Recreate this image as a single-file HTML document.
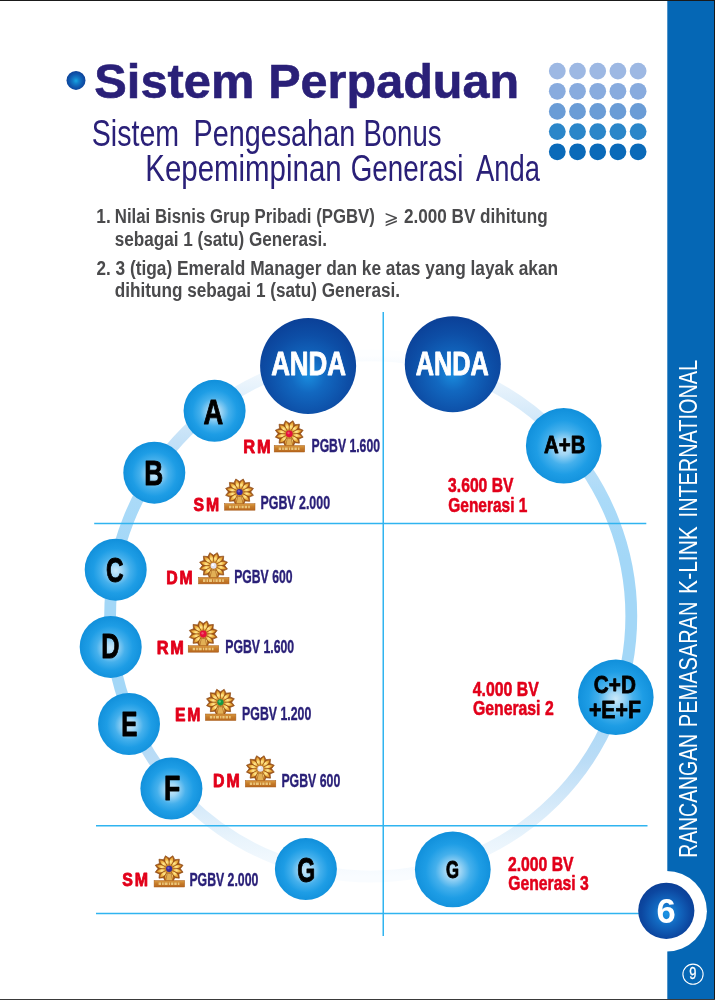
<!DOCTYPE html>
<html lang="id"><head><meta charset="utf-8"><title>Sistem Perpaduan</title>
<style>
html,body{margin:0;padding:0;background:#fff;}
body{width:715px;height:1000px;overflow:hidden;}
svg{display:block;}
svg text{font-family:"Liberation Sans",sans-serif;}
</style></head><body>
<svg width="715" height="1000" viewBox="0 0 715 1000">
<defs>
<radialGradient id="gBul" cx="0.5" cy="0.52" r="0.52">
<stop offset="0" stop-color="#16a8e4"/><stop offset="0.3" stop-color="#127dc9"/><stop offset="0.65" stop-color="#0f59af"/><stop offset="1" stop-color="#0c4098"/></radialGradient>
<radialGradient id="gAnda" cx="0.5" cy="0.6" r="0.6">
<stop offset="0" stop-color="#1a8cde"/><stop offset="0.3" stop-color="#1268c0"/><stop offset="0.7" stop-color="#0d4ea6"/><stop offset="1" stop-color="#0b4097"/></radialGradient>
<radialGradient id="gSix" cx="0.5" cy="0.55" r="0.55">
<stop offset="0" stop-color="#1c96e6"/><stop offset="0.4" stop-color="#1268c0"/><stop offset="0.8" stop-color="#0c47a0"/><stop offset="1" stop-color="#0b3f96"/></radialGradient>
<radialGradient id="gBall" cx="0.5" cy="0.52" r="0.5">
<stop offset="0" stop-color="#cbe9fa"/><stop offset="0.2" stop-color="#a0d6f5"/><stop offset="0.46" stop-color="#45b0ec"/><stop offset="0.72" stop-color="#1e9de5"/><stop offset="1" stop-color="#1291dc"/></radialGradient>
<linearGradient id="gRing" gradientUnits="userSpaceOnUse" x1="0" y1="350" x2="0" y2="882">
<stop offset="0.01" stop-color="#fdfeff"/><stop offset="0.066" stop-color="#e8f3fc"/><stop offset="0.17" stop-color="#c4e1f7"/><stop offset="0.28" stop-color="#aadaf8"/><stop offset="0.39" stop-color="#a3d7f7"/><stop offset="0.66" stop-color="#a3d7f7"/><stop offset="0.77" stop-color="#badcf6"/><stop offset="0.845" stop-color="#d2e8f9"/><stop offset="0.92" stop-color="#e9f4fc"/><stop offset="0.965" stop-color="#f3f9fe"/><stop offset="0.99" stop-color="#f9fcff"/></linearGradient>
<radialGradient id="gPetal" gradientUnits="userSpaceOnUse" cx="-0.5" cy="-7.5" r="7">
<stop offset="0" stop-color="#ffeb9a"/><stop offset="0.35" stop-color="#f3bd4c"/><stop offset="0.75" stop-color="#d98e2c"/><stop offset="1" stop-color="#b66a1a"/></radialGradient>
<linearGradient id="gPlate" x1="0" y1="0" x2="0" y2="1">
<stop offset="0" stop-color="#d99a40"/><stop offset="0.5" stop-color="#c57a28"/><stop offset="1" stop-color="#b7671e"/></linearGradient>
</defs>
<rect width="715" height="1000" fill="#fff"/>
<rect x="667.3" y="0" width="47.7" height="1000" fill="#0567b5"/>
<circle cx="666.6" cy="911.2" r="40.3" fill="#fff"/>
<circle cx="557.3" cy="71.1" r="8.4" fill="#9db8e3"/>
<circle cx="577.5" cy="71.1" r="8.4" fill="#9db8e3"/>
<circle cx="597.7" cy="71.1" r="8.4" fill="#9db8e3"/>
<circle cx="617.9" cy="71.1" r="8.4" fill="#9db8e3"/>
<circle cx="638.1" cy="71.1" r="8.4" fill="#9db8e3"/>
<circle cx="557.3" cy="91.3" r="8.4" fill="#88abde"/>
<circle cx="577.5" cy="91.3" r="8.4" fill="#88abde"/>
<circle cx="597.7" cy="91.3" r="8.4" fill="#88abde"/>
<circle cx="617.9" cy="91.3" r="8.4" fill="#88abde"/>
<circle cx="638.1" cy="91.3" r="8.4" fill="#88abde"/>
<circle cx="557.3" cy="111.4" r="8.4" fill="#6a9cd6"/>
<circle cx="577.5" cy="111.4" r="8.4" fill="#6a9cd6"/>
<circle cx="597.7" cy="111.4" r="8.4" fill="#6a9cd6"/>
<circle cx="617.9" cy="111.4" r="8.4" fill="#6a9cd6"/>
<circle cx="638.1" cy="111.4" r="8.4" fill="#6a9cd6"/>
<circle cx="557.3" cy="131.6" r="8.4" fill="#2b86c9"/>
<circle cx="577.5" cy="131.6" r="8.4" fill="#2b86c9"/>
<circle cx="597.7" cy="131.6" r="8.4" fill="#2b86c9"/>
<circle cx="617.9" cy="131.6" r="8.4" fill="#2b86c9"/>
<circle cx="638.1" cy="131.6" r="8.4" fill="#2b86c9"/>
<circle cx="557.3" cy="151.8" r="8.4" fill="#0a6ab9"/>
<circle cx="577.5" cy="151.8" r="8.4" fill="#0a6ab9"/>
<circle cx="597.7" cy="151.8" r="8.4" fill="#0a6ab9"/>
<circle cx="617.9" cy="151.8" r="8.4" fill="#0a6ab9"/>
<circle cx="638.1" cy="151.8" r="8.4" fill="#0a6ab9"/>
<circle cx="76.0" cy="80.4" r="9.5" fill="url(#gBul)"/>
<text transform="translate(94.34 97.90) scale(0.9957 1)" font-size="49.00" font-weight="bold" fill="#2a2078" stroke="#2a2078" stroke-width="0.6">Sistem</text>
<text transform="translate(268.24 97.90) scale(0.9908 1)" font-size="49.00" font-weight="bold" fill="#2a2078" stroke="#2a2078" stroke-width="0.6">Perpaduan</text>
<text transform="translate(91.81 145.90) scale(0.7833 1)" font-size="36.50" font-weight="normal" fill="#2a2078">Sistem</text>
<text transform="translate(193.50 145.90) scale(0.7889 1)" font-size="36.50" font-weight="normal" fill="#2a2078">Pengesahan</text>
<text transform="translate(363.40 145.90) scale(0.7544 1)" font-size="36.50" font-weight="normal" fill="#2a2078">Bonus</text>
<text transform="translate(145.24 180.70) scale(0.8070 1)" font-size="36.50" font-weight="normal" fill="#2a2078">Kepemimpinan</text>
<text transform="translate(350.71 180.70) scale(0.7614 1)" font-size="36.50" font-weight="normal" fill="#2a2078">Generasi</text>
<text transform="translate(475.96 180.70) scale(0.7502 1)" font-size="36.50" font-weight="normal" fill="#2a2078">Anda</text>
<text transform="translate(96.28 223.30) scale(0.8432 1)" font-size="20.50" font-weight="bold" fill="#4a4a4c">1.</text>
<text transform="translate(114.81 223.30) scale(0.8190 1)" font-size="20.50" font-weight="bold" fill="#4a4a4c">Nilai Bisnis Grup Pribadi (PGBV)</text>
<text transform="translate(383.72 223.70) scale(0.9361 1)" font-size="19.14" style="font-family:'DejaVu Sans',sans-serif" fill="#4a4a4c">⩾</text>
<text transform="translate(404.00 223.30) scale(0.8356 1)" font-size="20.50" font-weight="bold" fill="#4a4a4c">2.000 BV dihitung</text>
<text transform="translate(114.80 245.90) scale(0.8359 1)" font-size="20.50" font-weight="bold" fill="#4a4a4c">sebagai 1 (satu) Generasi.</text>
<text transform="translate(96.40 275.00) scale(0.8353 1)" font-size="20.50" font-weight="bold" fill="#4a4a4c">2.</text>
<text transform="translate(115.47 275.00) scale(0.8450 1)" font-size="20.50" font-weight="bold" fill="#4a4a4c">3 (tiga) Emerald Manager dan ke atas yang layak akan</text>
<text transform="translate(114.71 297.10) scale(0.8379 1)" font-size="20.50" font-weight="bold" fill="#4a4a4c">dihitung sebagai 1 (satu) Generasi.</text>
<circle cx="370.7" cy="616" r="260.6" fill="none" stroke="url(#gRing)" stroke-width="11.8"/>
<g stroke="#30b4f0" stroke-width="1.5" fill="none">
<line x1="383.25" y1="312" x2="383.25" y2="936"/>
<line x1="94.2" y1="523.5" x2="646.3" y2="523.5"/>
<line x1="96" y1="825.8" x2="647.5" y2="825.8"/>
<line x1="96" y1="913.4" x2="640" y2="913.4"/>
</g>
<circle cx="666.3" cy="910.8" r="28.1" fill="url(#gSix)"/>
<text transform="translate(656.59 922.90) scale(1.0099 1)" font-size="34.30" font-weight="bold" fill="#fff">6</text>
<circle cx="693" cy="974.2" r="10.1" fill="none" stroke="#fff" stroke-width="1.1"/>
<text transform="translate(689.32 979.10) scale(0.8271 1)" font-size="15.60" font-weight="normal" fill="#fff" stroke="#fff" stroke-width="0.3">9</text>
<text transform="translate(697.40 857.85) rotate(-90) scale(0.7302 1)" font-size="26.60" font-weight="normal" fill="#fff">RANCANGAN</text>
<text transform="translate(697.40 727.20) rotate(-90) scale(0.7525 1)" font-size="26.60" font-weight="normal" fill="#fff">PEMASARAN</text>
<text transform="translate(697.40 593.88) rotate(-90) scale(0.7903 1)" font-size="26.60" font-weight="normal" fill="#fff">K-LINK</text>
<text transform="translate(697.40 517.39) rotate(-90) scale(0.7471 1)" font-size="26.60" font-weight="normal" fill="#fff">INTERNATIONAL</text>
<circle cx="308.1" cy="366.0" r="48" fill="url(#gAnda)"/>
<text transform="translate(271.15 375.30) scale(0.7856 1)" font-size="33.00" font-weight="bold" fill="#fff" stroke="#fff" stroke-width="0.9" stroke-linejoin="round">ANDA</text>
<circle cx="452.8" cy="364.2" r="48" fill="url(#gAnda)"/>
<text transform="translate(415.87 375.00) scale(0.7664 1)" font-size="33.00" font-weight="bold" fill="#fff" stroke="#fff" stroke-width="0.9" stroke-linejoin="round">ANDA</text>
<circle cx="214.6" cy="410.8" r="31" fill="url(#gBall)"/>
<text transform="translate(203.62 423.50) scale(0.7940 1)" font-size="34.40" font-weight="bold" fill="#000" stroke="#000" stroke-width="0.9" stroke-linejoin="round">A</text>
<circle cx="154.3" cy="472.7" r="31" fill="url(#gBall)"/>
<text transform="translate(144.30 484.70) scale(0.7625 1)" font-size="34.40" font-weight="bold" fill="#000" stroke="#000" stroke-width="0.9" stroke-linejoin="round">B</text>
<circle cx="115.7" cy="569.7" r="31" fill="url(#gBall)"/>
<text transform="translate(105.92 582.30) scale(0.7101 1)" font-size="34.40" font-weight="bold" fill="#000" stroke="#000" stroke-width="0.9" stroke-linejoin="round">C</text>
<circle cx="110.7" cy="646.9" r="31" fill="url(#gBall)"/>
<text transform="translate(101.16 658.30) scale(0.7327 1)" font-size="34.40" font-weight="bold" fill="#000" stroke="#000" stroke-width="0.9" stroke-linejoin="round">D</text>
<circle cx="129.0" cy="724.0" r="31" fill="url(#gBall)"/>
<text transform="translate(121.32 736.20) scale(0.7049 1)" font-size="34.40" font-weight="bold" fill="#000" stroke="#000" stroke-width="0.9" stroke-linejoin="round">E</text>
<circle cx="171.4" cy="788.5" r="31" fill="url(#gBall)"/>
<text transform="translate(164.07 799.80) scale(0.7752 1)" font-size="34.40" font-weight="bold" fill="#000" stroke="#000" stroke-width="0.9" stroke-linejoin="round">F</text>
<circle cx="305.9" cy="869.1" r="31" fill="url(#gBall)"/>
<text transform="translate(297.28 881.90) scale(0.6718 1)" font-size="34.40" font-weight="bold" fill="#000" stroke="#000" stroke-width="0.9" stroke-linejoin="round">G</text>
<circle cx="563.7" cy="445.8" r="37.8" fill="url(#gBall)"/>
<text transform="translate(544.09 452.70) scale(0.8434 1)" font-size="24.20" font-weight="bold" fill="#000" stroke="#000" stroke-width="0.8" stroke-linejoin="round">A+B</text>
<circle cx="615.8" cy="697.3" r="37.8" fill="url(#gBall)"/>
<text transform="translate(593.87 693.20) scale(0.8492 1)" font-size="24.40" font-weight="bold" fill="#000" stroke="#000" stroke-width="0.8" stroke-linejoin="round">C+D</text>
<text transform="translate(588.95 717.50) scale(0.8716 1)" font-size="24.40" font-weight="bold" fill="#000" stroke="#000" stroke-width="0.8" stroke-linejoin="round">+E+F</text>
<circle cx="452.8" cy="869.4" r="37.9" fill="url(#gBall)"/>
<text transform="translate(445.93 878.00) scale(0.6918 1)" font-size="24.20" font-weight="bold" fill="#000" stroke="#000" stroke-width="0.9" stroke-linejoin="round">G</text>
<text transform="translate(448.11 492.00) scale(0.7722 1)" font-size="20.30" font-weight="bold" fill="#e2001a" stroke="#e2001a" stroke-width="0.55" stroke-linejoin="round">3.600 BV</text>
<text transform="translate(448.28 512.20) scale(0.7618 1)" font-size="20.30" font-weight="bold" fill="#e2001a" stroke="#e2001a" stroke-width="0.55" stroke-linejoin="round">Generasi 1</text>
<text transform="translate(472.76 695.70) scale(0.7811 1)" font-size="20.30" font-weight="bold" fill="#e2001a" stroke="#e2001a" stroke-width="0.55" stroke-linejoin="round">4.000 BV</text>
<text transform="translate(472.97 715.40) scale(0.7778 1)" font-size="20.30" font-weight="bold" fill="#e2001a" stroke="#e2001a" stroke-width="0.55" stroke-linejoin="round">Generasi 2</text>
<text transform="translate(507.95 870.60) scale(0.7765 1)" font-size="20.30" font-weight="bold" fill="#e2001a" stroke="#e2001a" stroke-width="0.55" stroke-linejoin="round">2.000 BV</text>
<text transform="translate(508.27 889.60) scale(0.7751 1)" font-size="20.30" font-weight="bold" fill="#e2001a" stroke="#e2001a" stroke-width="0.55" stroke-linejoin="round">Generasi 3</text>
<text transform="translate(243.13 452.70) scale(0.8931 1)" font-size="18.40" font-weight="bold" fill="#e2001a" letter-spacing="2.2" stroke="#e2001a" stroke-width="0.85" stroke-linejoin="round">RM</text>
<g>
<polygon points="292.98,420.76 294.85,424.68 299.43,424.23 298.95,428.49 303.16,430.23 300.45,433.70 303.16,437.17 298.95,438.91 299.43,443.17 294.85,442.72 292.98,446.64 289.25,444.12 285.52,446.64 283.65,442.72 279.07,443.17 279.55,438.91 275.34,437.17 278.05,433.70 275.34,430.23 279.55,428.49 279.07,424.23 283.65,424.68 285.52,420.76 289.25,423.28" fill="#a55a19" stroke="#8e4a14" stroke-width="0.7" stroke-linejoin="round"/>
<path transform="translate(289.25 433.70) scale(1 0.93) rotate(15)" d="M0,-3.4 C2.1,-5.5 2.6,-9.6 0,-12.9 C-2.6,-9.6 -2.1,-5.5 0,-3.4Z" fill="url(#gPetal)"/>
<path transform="translate(289.25 433.70) scale(1 0.93) rotate(45)" d="M0,-3.4 C2.1,-5.5 2.6,-9.6 0,-12.9 C-2.6,-9.6 -2.1,-5.5 0,-3.4Z" fill="url(#gPetal)"/>
<path transform="translate(289.25 433.70) scale(1 0.93) rotate(75)" d="M0,-3.4 C2.1,-5.5 2.6,-9.6 0,-12.9 C-2.6,-9.6 -2.1,-5.5 0,-3.4Z" fill="url(#gPetal)"/>
<path transform="translate(289.25 433.70) scale(1 0.93) rotate(105)" d="M0,-3.4 C2.1,-5.5 2.6,-9.6 0,-12.9 C-2.6,-9.6 -2.1,-5.5 0,-3.4Z" fill="url(#gPetal)"/>
<path transform="translate(289.25 433.70) scale(1 0.93) rotate(135)" d="M0,-3.4 C2.1,-5.5 2.6,-9.6 0,-12.9 C-2.6,-9.6 -2.1,-5.5 0,-3.4Z" fill="url(#gPetal)"/>
<path transform="translate(289.25 433.70) scale(1 0.93) rotate(165)" d="M0,-3.4 C2.1,-5.5 2.6,-9.6 0,-12.9 C-2.6,-9.6 -2.1,-5.5 0,-3.4Z" fill="url(#gPetal)"/>
<path transform="translate(289.25 433.70) scale(1 0.93) rotate(195)" d="M0,-3.4 C2.1,-5.5 2.6,-9.6 0,-12.9 C-2.6,-9.6 -2.1,-5.5 0,-3.4Z" fill="url(#gPetal)"/>
<path transform="translate(289.25 433.70) scale(1 0.93) rotate(225)" d="M0,-3.4 C2.1,-5.5 2.6,-9.6 0,-12.9 C-2.6,-9.6 -2.1,-5.5 0,-3.4Z" fill="url(#gPetal)"/>
<path transform="translate(289.25 433.70) scale(1 0.93) rotate(255)" d="M0,-3.4 C2.1,-5.5 2.6,-9.6 0,-12.9 C-2.6,-9.6 -2.1,-5.5 0,-3.4Z" fill="url(#gPetal)"/>
<path transform="translate(289.25 433.70) scale(1 0.93) rotate(285)" d="M0,-3.4 C2.1,-5.5 2.6,-9.6 0,-12.9 C-2.6,-9.6 -2.1,-5.5 0,-3.4Z" fill="url(#gPetal)"/>
<path transform="translate(289.25 433.70) scale(1 0.93) rotate(315)" d="M0,-3.4 C2.1,-5.5 2.6,-9.6 0,-12.9 C-2.6,-9.6 -2.1,-5.5 0,-3.4Z" fill="url(#gPetal)"/>
<path transform="translate(289.25 433.70) scale(1 0.93) rotate(345)" d="M0,-3.4 C2.1,-5.5 2.6,-9.6 0,-12.9 C-2.6,-9.6 -2.1,-5.5 0,-3.4Z" fill="url(#gPetal)"/>
<path transform="translate(289.25 433.70) scale(1 0.93) rotate(0)" d="M0,-4 L0,-11" stroke="#8f4c16" stroke-width="0.7" fill="none" opacity="0.75"/>
<path transform="translate(289.25 433.70) scale(1 0.93) rotate(30)" d="M0,-4 L0,-11" stroke="#8f4c16" stroke-width="0.7" fill="none" opacity="0.75"/>
<path transform="translate(289.25 433.70) scale(1 0.93) rotate(60)" d="M0,-4 L0,-11" stroke="#8f4c16" stroke-width="0.7" fill="none" opacity="0.75"/>
<path transform="translate(289.25 433.70) scale(1 0.93) rotate(90)" d="M0,-4 L0,-11" stroke="#8f4c16" stroke-width="0.7" fill="none" opacity="0.75"/>
<path transform="translate(289.25 433.70) scale(1 0.93) rotate(120)" d="M0,-4 L0,-11" stroke="#8f4c16" stroke-width="0.7" fill="none" opacity="0.75"/>
<path transform="translate(289.25 433.70) scale(1 0.93) rotate(150)" d="M0,-4 L0,-11" stroke="#8f4c16" stroke-width="0.7" fill="none" opacity="0.75"/>
<path transform="translate(289.25 433.70) scale(1 0.93) rotate(180)" d="M0,-4 L0,-11" stroke="#8f4c16" stroke-width="0.7" fill="none" opacity="0.75"/>
<path transform="translate(289.25 433.70) scale(1 0.93) rotate(210)" d="M0,-4 L0,-11" stroke="#8f4c16" stroke-width="0.7" fill="none" opacity="0.75"/>
<path transform="translate(289.25 433.70) scale(1 0.93) rotate(240)" d="M0,-4 L0,-11" stroke="#8f4c16" stroke-width="0.7" fill="none" opacity="0.75"/>
<path transform="translate(289.25 433.70) scale(1 0.93) rotate(270)" d="M0,-4 L0,-11" stroke="#8f4c16" stroke-width="0.7" fill="none" opacity="0.75"/>
<path transform="translate(289.25 433.70) scale(1 0.93) rotate(300)" d="M0,-4 L0,-11" stroke="#8f4c16" stroke-width="0.7" fill="none" opacity="0.75"/>
<path transform="translate(289.25 433.70) scale(1 0.93) rotate(330)" d="M0,-4 L0,-11" stroke="#8f4c16" stroke-width="0.7" fill="none" opacity="0.75"/>
<path d="M287.25,438.20 L285.65,446.00 L292.85,446.00 L291.25,438.20Z" fill="#e2b055" stroke="#98531a" stroke-width="0.6"/>
<circle cx="289.25" cy="433.80" r="4.6" fill="#c98a34" opacity="0.6"/>
<circle cx="289.25" cy="433.80" r="3.4" fill="#e60f3c"/>
<circle cx="288.55" cy="433.00" r="1.2" fill="#f0506e"/>
<rect x="274.20" y="445.50" width="30.5" height="6.5" fill="url(#gPlate)" stroke="#a85c1b" stroke-width="0.5"/>
<path d="M278.70,448.75 H300.20" stroke="#f1d48a" stroke-width="2.6" stroke-dasharray="2.4 1.1 1.6 0.9 3 1.2 1.3 1 2.2 1" fill="none" opacity="0.85"/>
</g>
<text transform="translate(311.51 452.20) scale(0.6852 1)" font-size="17.80" font-weight="bold" fill="#2a2078" stroke="#2a2078" stroke-width="0.35">PGBV 1.600</text>
<text transform="translate(193.53 510.70) scale(0.8584 1)" font-size="18.40" font-weight="bold" fill="#e2001a" letter-spacing="2.2" stroke="#e2001a" stroke-width="0.85" stroke-linejoin="round">SM</text>
<g>
<polygon points="243.28,478.96 245.15,482.88 249.73,482.43 249.25,486.69 253.46,488.43 250.75,491.90 253.46,495.37 249.25,497.11 249.73,501.37 245.15,500.92 243.28,504.84 239.55,502.32 235.82,504.84 233.95,500.92 229.37,501.37 229.85,497.11 225.64,495.37 228.35,491.90 225.64,488.43 229.85,486.69 229.37,482.43 233.95,482.88 235.82,478.96 239.55,481.48" fill="#a55a19" stroke="#8e4a14" stroke-width="0.7" stroke-linejoin="round"/>
<path transform="translate(239.55 491.90) scale(1 0.93) rotate(15)" d="M0,-3.4 C2.1,-5.5 2.6,-9.6 0,-12.9 C-2.6,-9.6 -2.1,-5.5 0,-3.4Z" fill="url(#gPetal)"/>
<path transform="translate(239.55 491.90) scale(1 0.93) rotate(45)" d="M0,-3.4 C2.1,-5.5 2.6,-9.6 0,-12.9 C-2.6,-9.6 -2.1,-5.5 0,-3.4Z" fill="url(#gPetal)"/>
<path transform="translate(239.55 491.90) scale(1 0.93) rotate(75)" d="M0,-3.4 C2.1,-5.5 2.6,-9.6 0,-12.9 C-2.6,-9.6 -2.1,-5.5 0,-3.4Z" fill="url(#gPetal)"/>
<path transform="translate(239.55 491.90) scale(1 0.93) rotate(105)" d="M0,-3.4 C2.1,-5.5 2.6,-9.6 0,-12.9 C-2.6,-9.6 -2.1,-5.5 0,-3.4Z" fill="url(#gPetal)"/>
<path transform="translate(239.55 491.90) scale(1 0.93) rotate(135)" d="M0,-3.4 C2.1,-5.5 2.6,-9.6 0,-12.9 C-2.6,-9.6 -2.1,-5.5 0,-3.4Z" fill="url(#gPetal)"/>
<path transform="translate(239.55 491.90) scale(1 0.93) rotate(165)" d="M0,-3.4 C2.1,-5.5 2.6,-9.6 0,-12.9 C-2.6,-9.6 -2.1,-5.5 0,-3.4Z" fill="url(#gPetal)"/>
<path transform="translate(239.55 491.90) scale(1 0.93) rotate(195)" d="M0,-3.4 C2.1,-5.5 2.6,-9.6 0,-12.9 C-2.6,-9.6 -2.1,-5.5 0,-3.4Z" fill="url(#gPetal)"/>
<path transform="translate(239.55 491.90) scale(1 0.93) rotate(225)" d="M0,-3.4 C2.1,-5.5 2.6,-9.6 0,-12.9 C-2.6,-9.6 -2.1,-5.5 0,-3.4Z" fill="url(#gPetal)"/>
<path transform="translate(239.55 491.90) scale(1 0.93) rotate(255)" d="M0,-3.4 C2.1,-5.5 2.6,-9.6 0,-12.9 C-2.6,-9.6 -2.1,-5.5 0,-3.4Z" fill="url(#gPetal)"/>
<path transform="translate(239.55 491.90) scale(1 0.93) rotate(285)" d="M0,-3.4 C2.1,-5.5 2.6,-9.6 0,-12.9 C-2.6,-9.6 -2.1,-5.5 0,-3.4Z" fill="url(#gPetal)"/>
<path transform="translate(239.55 491.90) scale(1 0.93) rotate(315)" d="M0,-3.4 C2.1,-5.5 2.6,-9.6 0,-12.9 C-2.6,-9.6 -2.1,-5.5 0,-3.4Z" fill="url(#gPetal)"/>
<path transform="translate(239.55 491.90) scale(1 0.93) rotate(345)" d="M0,-3.4 C2.1,-5.5 2.6,-9.6 0,-12.9 C-2.6,-9.6 -2.1,-5.5 0,-3.4Z" fill="url(#gPetal)"/>
<path transform="translate(239.55 491.90) scale(1 0.93) rotate(0)" d="M0,-4 L0,-11" stroke="#8f4c16" stroke-width="0.7" fill="none" opacity="0.75"/>
<path transform="translate(239.55 491.90) scale(1 0.93) rotate(30)" d="M0,-4 L0,-11" stroke="#8f4c16" stroke-width="0.7" fill="none" opacity="0.75"/>
<path transform="translate(239.55 491.90) scale(1 0.93) rotate(60)" d="M0,-4 L0,-11" stroke="#8f4c16" stroke-width="0.7" fill="none" opacity="0.75"/>
<path transform="translate(239.55 491.90) scale(1 0.93) rotate(90)" d="M0,-4 L0,-11" stroke="#8f4c16" stroke-width="0.7" fill="none" opacity="0.75"/>
<path transform="translate(239.55 491.90) scale(1 0.93) rotate(120)" d="M0,-4 L0,-11" stroke="#8f4c16" stroke-width="0.7" fill="none" opacity="0.75"/>
<path transform="translate(239.55 491.90) scale(1 0.93) rotate(150)" d="M0,-4 L0,-11" stroke="#8f4c16" stroke-width="0.7" fill="none" opacity="0.75"/>
<path transform="translate(239.55 491.90) scale(1 0.93) rotate(180)" d="M0,-4 L0,-11" stroke="#8f4c16" stroke-width="0.7" fill="none" opacity="0.75"/>
<path transform="translate(239.55 491.90) scale(1 0.93) rotate(210)" d="M0,-4 L0,-11" stroke="#8f4c16" stroke-width="0.7" fill="none" opacity="0.75"/>
<path transform="translate(239.55 491.90) scale(1 0.93) rotate(240)" d="M0,-4 L0,-11" stroke="#8f4c16" stroke-width="0.7" fill="none" opacity="0.75"/>
<path transform="translate(239.55 491.90) scale(1 0.93) rotate(270)" d="M0,-4 L0,-11" stroke="#8f4c16" stroke-width="0.7" fill="none" opacity="0.75"/>
<path transform="translate(239.55 491.90) scale(1 0.93) rotate(300)" d="M0,-4 L0,-11" stroke="#8f4c16" stroke-width="0.7" fill="none" opacity="0.75"/>
<path transform="translate(239.55 491.90) scale(1 0.93) rotate(330)" d="M0,-4 L0,-11" stroke="#8f4c16" stroke-width="0.7" fill="none" opacity="0.75"/>
<path d="M237.55,496.40 L235.95,504.20 L243.15,504.20 L241.55,496.40Z" fill="#e2b055" stroke="#98531a" stroke-width="0.6"/>
<circle cx="239.55" cy="492.00" r="4.6" fill="#c98a34" opacity="0.6"/>
<circle cx="239.55" cy="492.00" r="3.1" fill="#3a2c9c"/>
<circle cx="238.85" cy="491.20" r="1.2" fill="#6a5cc8"/>
<rect x="224.50" y="503.70" width="30.5" height="6.5" fill="url(#gPlate)" stroke="#a85c1b" stroke-width="0.5"/>
<path d="M229.00,506.95 H250.50" stroke="#f1d48a" stroke-width="2.6" stroke-dasharray="2.4 1.1 1.6 0.9 3 1.2 1.3 1 2.2 1" fill="none" opacity="0.85"/>
</g>
<text transform="translate(260.49 509.20) scale(0.6964 1)" font-size="17.80" font-weight="bold" fill="#2a2078" stroke="#2a2078" stroke-width="0.35">PGBV 2.000</text>
<text transform="translate(166.17 584.40) scale(0.8613 1)" font-size="18.40" font-weight="bold" fill="#e2001a" letter-spacing="2.2" stroke="#e2001a" stroke-width="0.85" stroke-linejoin="round">DM</text>
<g>
<polygon points="217.28,552.66 219.15,556.58 223.73,556.13 223.25,560.39 227.46,562.13 224.75,565.60 227.46,569.07 223.25,570.81 223.73,575.07 219.15,574.62 217.28,578.54 213.55,576.02 209.82,578.54 207.95,574.62 203.37,575.07 203.85,570.81 199.64,569.07 202.35,565.60 199.64,562.13 203.85,560.39 203.37,556.13 207.95,556.58 209.82,552.66 213.55,555.18" fill="#a55a19" stroke="#8e4a14" stroke-width="0.7" stroke-linejoin="round"/>
<path transform="translate(213.55 565.60) scale(1 0.93) rotate(15)" d="M0,-3.4 C2.1,-5.5 2.6,-9.6 0,-12.9 C-2.6,-9.6 -2.1,-5.5 0,-3.4Z" fill="url(#gPetal)"/>
<path transform="translate(213.55 565.60) scale(1 0.93) rotate(45)" d="M0,-3.4 C2.1,-5.5 2.6,-9.6 0,-12.9 C-2.6,-9.6 -2.1,-5.5 0,-3.4Z" fill="url(#gPetal)"/>
<path transform="translate(213.55 565.60) scale(1 0.93) rotate(75)" d="M0,-3.4 C2.1,-5.5 2.6,-9.6 0,-12.9 C-2.6,-9.6 -2.1,-5.5 0,-3.4Z" fill="url(#gPetal)"/>
<path transform="translate(213.55 565.60) scale(1 0.93) rotate(105)" d="M0,-3.4 C2.1,-5.5 2.6,-9.6 0,-12.9 C-2.6,-9.6 -2.1,-5.5 0,-3.4Z" fill="url(#gPetal)"/>
<path transform="translate(213.55 565.60) scale(1 0.93) rotate(135)" d="M0,-3.4 C2.1,-5.5 2.6,-9.6 0,-12.9 C-2.6,-9.6 -2.1,-5.5 0,-3.4Z" fill="url(#gPetal)"/>
<path transform="translate(213.55 565.60) scale(1 0.93) rotate(165)" d="M0,-3.4 C2.1,-5.5 2.6,-9.6 0,-12.9 C-2.6,-9.6 -2.1,-5.5 0,-3.4Z" fill="url(#gPetal)"/>
<path transform="translate(213.55 565.60) scale(1 0.93) rotate(195)" d="M0,-3.4 C2.1,-5.5 2.6,-9.6 0,-12.9 C-2.6,-9.6 -2.1,-5.5 0,-3.4Z" fill="url(#gPetal)"/>
<path transform="translate(213.55 565.60) scale(1 0.93) rotate(225)" d="M0,-3.4 C2.1,-5.5 2.6,-9.6 0,-12.9 C-2.6,-9.6 -2.1,-5.5 0,-3.4Z" fill="url(#gPetal)"/>
<path transform="translate(213.55 565.60) scale(1 0.93) rotate(255)" d="M0,-3.4 C2.1,-5.5 2.6,-9.6 0,-12.9 C-2.6,-9.6 -2.1,-5.5 0,-3.4Z" fill="url(#gPetal)"/>
<path transform="translate(213.55 565.60) scale(1 0.93) rotate(285)" d="M0,-3.4 C2.1,-5.5 2.6,-9.6 0,-12.9 C-2.6,-9.6 -2.1,-5.5 0,-3.4Z" fill="url(#gPetal)"/>
<path transform="translate(213.55 565.60) scale(1 0.93) rotate(315)" d="M0,-3.4 C2.1,-5.5 2.6,-9.6 0,-12.9 C-2.6,-9.6 -2.1,-5.5 0,-3.4Z" fill="url(#gPetal)"/>
<path transform="translate(213.55 565.60) scale(1 0.93) rotate(345)" d="M0,-3.4 C2.1,-5.5 2.6,-9.6 0,-12.9 C-2.6,-9.6 -2.1,-5.5 0,-3.4Z" fill="url(#gPetal)"/>
<path transform="translate(213.55 565.60) scale(1 0.93) rotate(0)" d="M0,-4 L0,-11" stroke="#8f4c16" stroke-width="0.7" fill="none" opacity="0.75"/>
<path transform="translate(213.55 565.60) scale(1 0.93) rotate(30)" d="M0,-4 L0,-11" stroke="#8f4c16" stroke-width="0.7" fill="none" opacity="0.75"/>
<path transform="translate(213.55 565.60) scale(1 0.93) rotate(60)" d="M0,-4 L0,-11" stroke="#8f4c16" stroke-width="0.7" fill="none" opacity="0.75"/>
<path transform="translate(213.55 565.60) scale(1 0.93) rotate(90)" d="M0,-4 L0,-11" stroke="#8f4c16" stroke-width="0.7" fill="none" opacity="0.75"/>
<path transform="translate(213.55 565.60) scale(1 0.93) rotate(120)" d="M0,-4 L0,-11" stroke="#8f4c16" stroke-width="0.7" fill="none" opacity="0.75"/>
<path transform="translate(213.55 565.60) scale(1 0.93) rotate(150)" d="M0,-4 L0,-11" stroke="#8f4c16" stroke-width="0.7" fill="none" opacity="0.75"/>
<path transform="translate(213.55 565.60) scale(1 0.93) rotate(180)" d="M0,-4 L0,-11" stroke="#8f4c16" stroke-width="0.7" fill="none" opacity="0.75"/>
<path transform="translate(213.55 565.60) scale(1 0.93) rotate(210)" d="M0,-4 L0,-11" stroke="#8f4c16" stroke-width="0.7" fill="none" opacity="0.75"/>
<path transform="translate(213.55 565.60) scale(1 0.93) rotate(240)" d="M0,-4 L0,-11" stroke="#8f4c16" stroke-width="0.7" fill="none" opacity="0.75"/>
<path transform="translate(213.55 565.60) scale(1 0.93) rotate(270)" d="M0,-4 L0,-11" stroke="#8f4c16" stroke-width="0.7" fill="none" opacity="0.75"/>
<path transform="translate(213.55 565.60) scale(1 0.93) rotate(300)" d="M0,-4 L0,-11" stroke="#8f4c16" stroke-width="0.7" fill="none" opacity="0.75"/>
<path transform="translate(213.55 565.60) scale(1 0.93) rotate(330)" d="M0,-4 L0,-11" stroke="#8f4c16" stroke-width="0.7" fill="none" opacity="0.75"/>
<path d="M211.55,570.10 L209.95,577.90 L217.15,577.90 L215.55,570.10Z" fill="#e2b055" stroke="#98531a" stroke-width="0.6"/>
<circle cx="213.55" cy="565.70" r="4.6" fill="#c98a34" opacity="0.6"/>
<circle cx="213.55" cy="565.70" r="3.0" fill="#e6e3ec"/>
<circle cx="212.85" cy="564.90" r="1.2" fill="#ffffff"/>
<rect x="198.50" y="577.40" width="30.5" height="6.5" fill="url(#gPlate)" stroke="#a85c1b" stroke-width="0.5"/>
<path d="M203.00,580.65 H224.50" stroke="#f1d48a" stroke-width="2.6" stroke-dasharray="2.4 1.1 1.6 0.9 3 1.2 1.3 1 2.2 1" fill="none" opacity="0.85"/>
</g>
<text transform="translate(234.21 583.40) scale(0.6850 1)" font-size="17.80" font-weight="bold" fill="#2a2078" stroke="#2a2078" stroke-width="0.35">PGBV 600</text>
<text transform="translate(156.64 653.80) scale(0.8860 1)" font-size="18.40" font-weight="bold" fill="#e2001a" letter-spacing="2.2" stroke="#e2001a" stroke-width="0.85" stroke-linejoin="round">RM</text>
<g>
<polygon points="206.98,620.96 208.85,624.88 213.43,624.43 212.95,628.69 217.16,630.43 214.45,633.90 217.16,637.37 212.95,639.11 213.43,643.37 208.85,642.92 206.98,646.84 203.25,644.32 199.52,646.84 197.65,642.92 193.07,643.37 193.55,639.11 189.34,637.37 192.05,633.90 189.34,630.43 193.55,628.69 193.07,624.43 197.65,624.88 199.52,620.96 203.25,623.48" fill="#a55a19" stroke="#8e4a14" stroke-width="0.7" stroke-linejoin="round"/>
<path transform="translate(203.25 633.90) scale(1 0.93) rotate(15)" d="M0,-3.4 C2.1,-5.5 2.6,-9.6 0,-12.9 C-2.6,-9.6 -2.1,-5.5 0,-3.4Z" fill="url(#gPetal)"/>
<path transform="translate(203.25 633.90) scale(1 0.93) rotate(45)" d="M0,-3.4 C2.1,-5.5 2.6,-9.6 0,-12.9 C-2.6,-9.6 -2.1,-5.5 0,-3.4Z" fill="url(#gPetal)"/>
<path transform="translate(203.25 633.90) scale(1 0.93) rotate(75)" d="M0,-3.4 C2.1,-5.5 2.6,-9.6 0,-12.9 C-2.6,-9.6 -2.1,-5.5 0,-3.4Z" fill="url(#gPetal)"/>
<path transform="translate(203.25 633.90) scale(1 0.93) rotate(105)" d="M0,-3.4 C2.1,-5.5 2.6,-9.6 0,-12.9 C-2.6,-9.6 -2.1,-5.5 0,-3.4Z" fill="url(#gPetal)"/>
<path transform="translate(203.25 633.90) scale(1 0.93) rotate(135)" d="M0,-3.4 C2.1,-5.5 2.6,-9.6 0,-12.9 C-2.6,-9.6 -2.1,-5.5 0,-3.4Z" fill="url(#gPetal)"/>
<path transform="translate(203.25 633.90) scale(1 0.93) rotate(165)" d="M0,-3.4 C2.1,-5.5 2.6,-9.6 0,-12.9 C-2.6,-9.6 -2.1,-5.5 0,-3.4Z" fill="url(#gPetal)"/>
<path transform="translate(203.25 633.90) scale(1 0.93) rotate(195)" d="M0,-3.4 C2.1,-5.5 2.6,-9.6 0,-12.9 C-2.6,-9.6 -2.1,-5.5 0,-3.4Z" fill="url(#gPetal)"/>
<path transform="translate(203.25 633.90) scale(1 0.93) rotate(225)" d="M0,-3.4 C2.1,-5.5 2.6,-9.6 0,-12.9 C-2.6,-9.6 -2.1,-5.5 0,-3.4Z" fill="url(#gPetal)"/>
<path transform="translate(203.25 633.90) scale(1 0.93) rotate(255)" d="M0,-3.4 C2.1,-5.5 2.6,-9.6 0,-12.9 C-2.6,-9.6 -2.1,-5.5 0,-3.4Z" fill="url(#gPetal)"/>
<path transform="translate(203.25 633.90) scale(1 0.93) rotate(285)" d="M0,-3.4 C2.1,-5.5 2.6,-9.6 0,-12.9 C-2.6,-9.6 -2.1,-5.5 0,-3.4Z" fill="url(#gPetal)"/>
<path transform="translate(203.25 633.90) scale(1 0.93) rotate(315)" d="M0,-3.4 C2.1,-5.5 2.6,-9.6 0,-12.9 C-2.6,-9.6 -2.1,-5.5 0,-3.4Z" fill="url(#gPetal)"/>
<path transform="translate(203.25 633.90) scale(1 0.93) rotate(345)" d="M0,-3.4 C2.1,-5.5 2.6,-9.6 0,-12.9 C-2.6,-9.6 -2.1,-5.5 0,-3.4Z" fill="url(#gPetal)"/>
<path transform="translate(203.25 633.90) scale(1 0.93) rotate(0)" d="M0,-4 L0,-11" stroke="#8f4c16" stroke-width="0.7" fill="none" opacity="0.75"/>
<path transform="translate(203.25 633.90) scale(1 0.93) rotate(30)" d="M0,-4 L0,-11" stroke="#8f4c16" stroke-width="0.7" fill="none" opacity="0.75"/>
<path transform="translate(203.25 633.90) scale(1 0.93) rotate(60)" d="M0,-4 L0,-11" stroke="#8f4c16" stroke-width="0.7" fill="none" opacity="0.75"/>
<path transform="translate(203.25 633.90) scale(1 0.93) rotate(90)" d="M0,-4 L0,-11" stroke="#8f4c16" stroke-width="0.7" fill="none" opacity="0.75"/>
<path transform="translate(203.25 633.90) scale(1 0.93) rotate(120)" d="M0,-4 L0,-11" stroke="#8f4c16" stroke-width="0.7" fill="none" opacity="0.75"/>
<path transform="translate(203.25 633.90) scale(1 0.93) rotate(150)" d="M0,-4 L0,-11" stroke="#8f4c16" stroke-width="0.7" fill="none" opacity="0.75"/>
<path transform="translate(203.25 633.90) scale(1 0.93) rotate(180)" d="M0,-4 L0,-11" stroke="#8f4c16" stroke-width="0.7" fill="none" opacity="0.75"/>
<path transform="translate(203.25 633.90) scale(1 0.93) rotate(210)" d="M0,-4 L0,-11" stroke="#8f4c16" stroke-width="0.7" fill="none" opacity="0.75"/>
<path transform="translate(203.25 633.90) scale(1 0.93) rotate(240)" d="M0,-4 L0,-11" stroke="#8f4c16" stroke-width="0.7" fill="none" opacity="0.75"/>
<path transform="translate(203.25 633.90) scale(1 0.93) rotate(270)" d="M0,-4 L0,-11" stroke="#8f4c16" stroke-width="0.7" fill="none" opacity="0.75"/>
<path transform="translate(203.25 633.90) scale(1 0.93) rotate(300)" d="M0,-4 L0,-11" stroke="#8f4c16" stroke-width="0.7" fill="none" opacity="0.75"/>
<path transform="translate(203.25 633.90) scale(1 0.93) rotate(330)" d="M0,-4 L0,-11" stroke="#8f4c16" stroke-width="0.7" fill="none" opacity="0.75"/>
<path d="M201.25,638.40 L199.65,646.20 L206.85,646.20 L205.25,638.40Z" fill="#e2b055" stroke="#98531a" stroke-width="0.6"/>
<circle cx="203.25" cy="634.00" r="4.6" fill="#c98a34" opacity="0.6"/>
<circle cx="203.25" cy="634.00" r="3.4" fill="#e60f3c"/>
<circle cx="202.55" cy="633.20" r="1.2" fill="#f0506e"/>
<rect x="188.20" y="645.70" width="30.5" height="6.5" fill="url(#gPlate)" stroke="#a85c1b" stroke-width="0.5"/>
<path d="M192.70,648.95 H214.20" stroke="#f1d48a" stroke-width="2.6" stroke-dasharray="2.4 1.1 1.6 0.9 3 1.2 1.3 1 2.2 1" fill="none" opacity="0.85"/>
</g>
<text transform="translate(225.30 652.50) scale(0.6892 1)" font-size="17.80" font-weight="bold" fill="#2a2078" stroke="#2a2078" stroke-width="0.35">PGBV 1.600</text>
<text transform="translate(174.98 721.20) scale(0.8566 1)" font-size="18.40" font-weight="bold" fill="#e2001a" letter-spacing="2.2" stroke="#e2001a" stroke-width="0.85" stroke-linejoin="round">EM</text>
<g>
<polygon points="224.18,689.26 226.05,693.18 230.63,692.73 230.15,696.99 234.36,698.73 231.65,702.20 234.36,705.67 230.15,707.41 230.63,711.67 226.05,711.22 224.18,715.14 220.45,712.62 216.72,715.14 214.85,711.22 210.27,711.67 210.75,707.41 206.54,705.67 209.25,702.20 206.54,698.73 210.75,696.99 210.27,692.73 214.85,693.18 216.72,689.26 220.45,691.78" fill="#a55a19" stroke="#8e4a14" stroke-width="0.7" stroke-linejoin="round"/>
<path transform="translate(220.45 702.20) scale(1 0.93) rotate(15)" d="M0,-3.4 C2.1,-5.5 2.6,-9.6 0,-12.9 C-2.6,-9.6 -2.1,-5.5 0,-3.4Z" fill="url(#gPetal)"/>
<path transform="translate(220.45 702.20) scale(1 0.93) rotate(45)" d="M0,-3.4 C2.1,-5.5 2.6,-9.6 0,-12.9 C-2.6,-9.6 -2.1,-5.5 0,-3.4Z" fill="url(#gPetal)"/>
<path transform="translate(220.45 702.20) scale(1 0.93) rotate(75)" d="M0,-3.4 C2.1,-5.5 2.6,-9.6 0,-12.9 C-2.6,-9.6 -2.1,-5.5 0,-3.4Z" fill="url(#gPetal)"/>
<path transform="translate(220.45 702.20) scale(1 0.93) rotate(105)" d="M0,-3.4 C2.1,-5.5 2.6,-9.6 0,-12.9 C-2.6,-9.6 -2.1,-5.5 0,-3.4Z" fill="url(#gPetal)"/>
<path transform="translate(220.45 702.20) scale(1 0.93) rotate(135)" d="M0,-3.4 C2.1,-5.5 2.6,-9.6 0,-12.9 C-2.6,-9.6 -2.1,-5.5 0,-3.4Z" fill="url(#gPetal)"/>
<path transform="translate(220.45 702.20) scale(1 0.93) rotate(165)" d="M0,-3.4 C2.1,-5.5 2.6,-9.6 0,-12.9 C-2.6,-9.6 -2.1,-5.5 0,-3.4Z" fill="url(#gPetal)"/>
<path transform="translate(220.45 702.20) scale(1 0.93) rotate(195)" d="M0,-3.4 C2.1,-5.5 2.6,-9.6 0,-12.9 C-2.6,-9.6 -2.1,-5.5 0,-3.4Z" fill="url(#gPetal)"/>
<path transform="translate(220.45 702.20) scale(1 0.93) rotate(225)" d="M0,-3.4 C2.1,-5.5 2.6,-9.6 0,-12.9 C-2.6,-9.6 -2.1,-5.5 0,-3.4Z" fill="url(#gPetal)"/>
<path transform="translate(220.45 702.20) scale(1 0.93) rotate(255)" d="M0,-3.4 C2.1,-5.5 2.6,-9.6 0,-12.9 C-2.6,-9.6 -2.1,-5.5 0,-3.4Z" fill="url(#gPetal)"/>
<path transform="translate(220.45 702.20) scale(1 0.93) rotate(285)" d="M0,-3.4 C2.1,-5.5 2.6,-9.6 0,-12.9 C-2.6,-9.6 -2.1,-5.5 0,-3.4Z" fill="url(#gPetal)"/>
<path transform="translate(220.45 702.20) scale(1 0.93) rotate(315)" d="M0,-3.4 C2.1,-5.5 2.6,-9.6 0,-12.9 C-2.6,-9.6 -2.1,-5.5 0,-3.4Z" fill="url(#gPetal)"/>
<path transform="translate(220.45 702.20) scale(1 0.93) rotate(345)" d="M0,-3.4 C2.1,-5.5 2.6,-9.6 0,-12.9 C-2.6,-9.6 -2.1,-5.5 0,-3.4Z" fill="url(#gPetal)"/>
<path transform="translate(220.45 702.20) scale(1 0.93) rotate(0)" d="M0,-4 L0,-11" stroke="#8f4c16" stroke-width="0.7" fill="none" opacity="0.75"/>
<path transform="translate(220.45 702.20) scale(1 0.93) rotate(30)" d="M0,-4 L0,-11" stroke="#8f4c16" stroke-width="0.7" fill="none" opacity="0.75"/>
<path transform="translate(220.45 702.20) scale(1 0.93) rotate(60)" d="M0,-4 L0,-11" stroke="#8f4c16" stroke-width="0.7" fill="none" opacity="0.75"/>
<path transform="translate(220.45 702.20) scale(1 0.93) rotate(90)" d="M0,-4 L0,-11" stroke="#8f4c16" stroke-width="0.7" fill="none" opacity="0.75"/>
<path transform="translate(220.45 702.20) scale(1 0.93) rotate(120)" d="M0,-4 L0,-11" stroke="#8f4c16" stroke-width="0.7" fill="none" opacity="0.75"/>
<path transform="translate(220.45 702.20) scale(1 0.93) rotate(150)" d="M0,-4 L0,-11" stroke="#8f4c16" stroke-width="0.7" fill="none" opacity="0.75"/>
<path transform="translate(220.45 702.20) scale(1 0.93) rotate(180)" d="M0,-4 L0,-11" stroke="#8f4c16" stroke-width="0.7" fill="none" opacity="0.75"/>
<path transform="translate(220.45 702.20) scale(1 0.93) rotate(210)" d="M0,-4 L0,-11" stroke="#8f4c16" stroke-width="0.7" fill="none" opacity="0.75"/>
<path transform="translate(220.45 702.20) scale(1 0.93) rotate(240)" d="M0,-4 L0,-11" stroke="#8f4c16" stroke-width="0.7" fill="none" opacity="0.75"/>
<path transform="translate(220.45 702.20) scale(1 0.93) rotate(270)" d="M0,-4 L0,-11" stroke="#8f4c16" stroke-width="0.7" fill="none" opacity="0.75"/>
<path transform="translate(220.45 702.20) scale(1 0.93) rotate(300)" d="M0,-4 L0,-11" stroke="#8f4c16" stroke-width="0.7" fill="none" opacity="0.75"/>
<path transform="translate(220.45 702.20) scale(1 0.93) rotate(330)" d="M0,-4 L0,-11" stroke="#8f4c16" stroke-width="0.7" fill="none" opacity="0.75"/>
<path d="M218.45,706.70 L216.85,714.50 L224.05,714.50 L222.45,706.70Z" fill="#e2b055" stroke="#98531a" stroke-width="0.6"/>
<circle cx="220.45" cy="702.30" r="4.6" fill="#c98a34" opacity="0.6"/>
<circle cx="220.45" cy="702.30" r="3.1" fill="#189a44"/>
<circle cx="219.75" cy="701.50" r="1.2" fill="#5ac878"/>
<rect x="205.40" y="714.00" width="30.5" height="6.5" fill="url(#gPlate)" stroke="#a85c1b" stroke-width="0.5"/>
<path d="M209.90,717.25 H231.40" stroke="#f1d48a" stroke-width="2.6" stroke-dasharray="2.4 1.1 1.6 0.9 3 1.2 1.3 1 2.2 1" fill="none" opacity="0.85"/>
</g>
<text transform="translate(242.10 720.30) scale(0.6923 1)" font-size="17.80" font-weight="bold" fill="#2a2078" stroke="#2a2078" stroke-width="0.35">PGBV 1.200</text>
<text transform="translate(213.07 787.10) scale(0.8649 1)" font-size="18.40" font-weight="bold" fill="#e2001a" letter-spacing="2.2" stroke="#e2001a" stroke-width="0.85" stroke-linejoin="round">DM</text>
<g>
<polygon points="264.08,755.76 265.95,759.68 270.53,759.23 270.05,763.49 274.26,765.23 271.55,768.70 274.26,772.17 270.05,773.91 270.53,778.17 265.95,777.72 264.08,781.64 260.35,779.12 256.62,781.64 254.75,777.72 250.17,778.17 250.65,773.91 246.44,772.17 249.15,768.70 246.44,765.23 250.65,763.49 250.17,759.23 254.75,759.68 256.62,755.76 260.35,758.28" fill="#a55a19" stroke="#8e4a14" stroke-width="0.7" stroke-linejoin="round"/>
<path transform="translate(260.35 768.70) scale(1 0.93) rotate(15)" d="M0,-3.4 C2.1,-5.5 2.6,-9.6 0,-12.9 C-2.6,-9.6 -2.1,-5.5 0,-3.4Z" fill="url(#gPetal)"/>
<path transform="translate(260.35 768.70) scale(1 0.93) rotate(45)" d="M0,-3.4 C2.1,-5.5 2.6,-9.6 0,-12.9 C-2.6,-9.6 -2.1,-5.5 0,-3.4Z" fill="url(#gPetal)"/>
<path transform="translate(260.35 768.70) scale(1 0.93) rotate(75)" d="M0,-3.4 C2.1,-5.5 2.6,-9.6 0,-12.9 C-2.6,-9.6 -2.1,-5.5 0,-3.4Z" fill="url(#gPetal)"/>
<path transform="translate(260.35 768.70) scale(1 0.93) rotate(105)" d="M0,-3.4 C2.1,-5.5 2.6,-9.6 0,-12.9 C-2.6,-9.6 -2.1,-5.5 0,-3.4Z" fill="url(#gPetal)"/>
<path transform="translate(260.35 768.70) scale(1 0.93) rotate(135)" d="M0,-3.4 C2.1,-5.5 2.6,-9.6 0,-12.9 C-2.6,-9.6 -2.1,-5.5 0,-3.4Z" fill="url(#gPetal)"/>
<path transform="translate(260.35 768.70) scale(1 0.93) rotate(165)" d="M0,-3.4 C2.1,-5.5 2.6,-9.6 0,-12.9 C-2.6,-9.6 -2.1,-5.5 0,-3.4Z" fill="url(#gPetal)"/>
<path transform="translate(260.35 768.70) scale(1 0.93) rotate(195)" d="M0,-3.4 C2.1,-5.5 2.6,-9.6 0,-12.9 C-2.6,-9.6 -2.1,-5.5 0,-3.4Z" fill="url(#gPetal)"/>
<path transform="translate(260.35 768.70) scale(1 0.93) rotate(225)" d="M0,-3.4 C2.1,-5.5 2.6,-9.6 0,-12.9 C-2.6,-9.6 -2.1,-5.5 0,-3.4Z" fill="url(#gPetal)"/>
<path transform="translate(260.35 768.70) scale(1 0.93) rotate(255)" d="M0,-3.4 C2.1,-5.5 2.6,-9.6 0,-12.9 C-2.6,-9.6 -2.1,-5.5 0,-3.4Z" fill="url(#gPetal)"/>
<path transform="translate(260.35 768.70) scale(1 0.93) rotate(285)" d="M0,-3.4 C2.1,-5.5 2.6,-9.6 0,-12.9 C-2.6,-9.6 -2.1,-5.5 0,-3.4Z" fill="url(#gPetal)"/>
<path transform="translate(260.35 768.70) scale(1 0.93) rotate(315)" d="M0,-3.4 C2.1,-5.5 2.6,-9.6 0,-12.9 C-2.6,-9.6 -2.1,-5.5 0,-3.4Z" fill="url(#gPetal)"/>
<path transform="translate(260.35 768.70) scale(1 0.93) rotate(345)" d="M0,-3.4 C2.1,-5.5 2.6,-9.6 0,-12.9 C-2.6,-9.6 -2.1,-5.5 0,-3.4Z" fill="url(#gPetal)"/>
<path transform="translate(260.35 768.70) scale(1 0.93) rotate(0)" d="M0,-4 L0,-11" stroke="#8f4c16" stroke-width="0.7" fill="none" opacity="0.75"/>
<path transform="translate(260.35 768.70) scale(1 0.93) rotate(30)" d="M0,-4 L0,-11" stroke="#8f4c16" stroke-width="0.7" fill="none" opacity="0.75"/>
<path transform="translate(260.35 768.70) scale(1 0.93) rotate(60)" d="M0,-4 L0,-11" stroke="#8f4c16" stroke-width="0.7" fill="none" opacity="0.75"/>
<path transform="translate(260.35 768.70) scale(1 0.93) rotate(90)" d="M0,-4 L0,-11" stroke="#8f4c16" stroke-width="0.7" fill="none" opacity="0.75"/>
<path transform="translate(260.35 768.70) scale(1 0.93) rotate(120)" d="M0,-4 L0,-11" stroke="#8f4c16" stroke-width="0.7" fill="none" opacity="0.75"/>
<path transform="translate(260.35 768.70) scale(1 0.93) rotate(150)" d="M0,-4 L0,-11" stroke="#8f4c16" stroke-width="0.7" fill="none" opacity="0.75"/>
<path transform="translate(260.35 768.70) scale(1 0.93) rotate(180)" d="M0,-4 L0,-11" stroke="#8f4c16" stroke-width="0.7" fill="none" opacity="0.75"/>
<path transform="translate(260.35 768.70) scale(1 0.93) rotate(210)" d="M0,-4 L0,-11" stroke="#8f4c16" stroke-width="0.7" fill="none" opacity="0.75"/>
<path transform="translate(260.35 768.70) scale(1 0.93) rotate(240)" d="M0,-4 L0,-11" stroke="#8f4c16" stroke-width="0.7" fill="none" opacity="0.75"/>
<path transform="translate(260.35 768.70) scale(1 0.93) rotate(270)" d="M0,-4 L0,-11" stroke="#8f4c16" stroke-width="0.7" fill="none" opacity="0.75"/>
<path transform="translate(260.35 768.70) scale(1 0.93) rotate(300)" d="M0,-4 L0,-11" stroke="#8f4c16" stroke-width="0.7" fill="none" opacity="0.75"/>
<path transform="translate(260.35 768.70) scale(1 0.93) rotate(330)" d="M0,-4 L0,-11" stroke="#8f4c16" stroke-width="0.7" fill="none" opacity="0.75"/>
<path d="M258.35,773.20 L256.75,781.00 L263.95,781.00 L262.35,773.20Z" fill="#e2b055" stroke="#98531a" stroke-width="0.6"/>
<circle cx="260.35" cy="768.80" r="4.6" fill="#c98a34" opacity="0.6"/>
<circle cx="260.35" cy="768.80" r="3.0" fill="#e6e3ec"/>
<circle cx="259.65" cy="768.00" r="1.2" fill="#ffffff"/>
<rect x="245.30" y="780.50" width="30.5" height="6.5" fill="url(#gPlate)" stroke="#a85c1b" stroke-width="0.5"/>
<path d="M249.80,783.75 H271.30" stroke="#f1d48a" stroke-width="2.6" stroke-dasharray="2.4 1.1 1.6 0.9 3 1.2 1.3 1 2.2 1" fill="none" opacity="0.85"/>
</g>
<text transform="translate(281.40 787.30) scale(0.6922 1)" font-size="17.80" font-weight="bold" fill="#2a2078" stroke="#2a2078" stroke-width="0.35">PGBV 600</text>
<text transform="translate(122.32 886.00) scale(0.8655 1)" font-size="18.40" font-weight="bold" fill="#e2001a" letter-spacing="2.2" stroke="#e2001a" stroke-width="0.85" stroke-linejoin="round">SM</text>
<g>
<polygon points="172.88,855.76 174.75,859.68 179.33,859.23 178.85,863.49 183.06,865.23 180.35,868.70 183.06,872.17 178.85,873.91 179.33,878.17 174.75,877.72 172.88,881.64 169.15,879.12 165.42,881.64 163.55,877.72 158.97,878.17 159.45,873.91 155.24,872.17 157.95,868.70 155.24,865.23 159.45,863.49 158.97,859.23 163.55,859.68 165.42,855.76 169.15,858.28" fill="#a55a19" stroke="#8e4a14" stroke-width="0.7" stroke-linejoin="round"/>
<path transform="translate(169.15 868.70) scale(1 0.93) rotate(15)" d="M0,-3.4 C2.1,-5.5 2.6,-9.6 0,-12.9 C-2.6,-9.6 -2.1,-5.5 0,-3.4Z" fill="url(#gPetal)"/>
<path transform="translate(169.15 868.70) scale(1 0.93) rotate(45)" d="M0,-3.4 C2.1,-5.5 2.6,-9.6 0,-12.9 C-2.6,-9.6 -2.1,-5.5 0,-3.4Z" fill="url(#gPetal)"/>
<path transform="translate(169.15 868.70) scale(1 0.93) rotate(75)" d="M0,-3.4 C2.1,-5.5 2.6,-9.6 0,-12.9 C-2.6,-9.6 -2.1,-5.5 0,-3.4Z" fill="url(#gPetal)"/>
<path transform="translate(169.15 868.70) scale(1 0.93) rotate(105)" d="M0,-3.4 C2.1,-5.5 2.6,-9.6 0,-12.9 C-2.6,-9.6 -2.1,-5.5 0,-3.4Z" fill="url(#gPetal)"/>
<path transform="translate(169.15 868.70) scale(1 0.93) rotate(135)" d="M0,-3.4 C2.1,-5.5 2.6,-9.6 0,-12.9 C-2.6,-9.6 -2.1,-5.5 0,-3.4Z" fill="url(#gPetal)"/>
<path transform="translate(169.15 868.70) scale(1 0.93) rotate(165)" d="M0,-3.4 C2.1,-5.5 2.6,-9.6 0,-12.9 C-2.6,-9.6 -2.1,-5.5 0,-3.4Z" fill="url(#gPetal)"/>
<path transform="translate(169.15 868.70) scale(1 0.93) rotate(195)" d="M0,-3.4 C2.1,-5.5 2.6,-9.6 0,-12.9 C-2.6,-9.6 -2.1,-5.5 0,-3.4Z" fill="url(#gPetal)"/>
<path transform="translate(169.15 868.70) scale(1 0.93) rotate(225)" d="M0,-3.4 C2.1,-5.5 2.6,-9.6 0,-12.9 C-2.6,-9.6 -2.1,-5.5 0,-3.4Z" fill="url(#gPetal)"/>
<path transform="translate(169.15 868.70) scale(1 0.93) rotate(255)" d="M0,-3.4 C2.1,-5.5 2.6,-9.6 0,-12.9 C-2.6,-9.6 -2.1,-5.5 0,-3.4Z" fill="url(#gPetal)"/>
<path transform="translate(169.15 868.70) scale(1 0.93) rotate(285)" d="M0,-3.4 C2.1,-5.5 2.6,-9.6 0,-12.9 C-2.6,-9.6 -2.1,-5.5 0,-3.4Z" fill="url(#gPetal)"/>
<path transform="translate(169.15 868.70) scale(1 0.93) rotate(315)" d="M0,-3.4 C2.1,-5.5 2.6,-9.6 0,-12.9 C-2.6,-9.6 -2.1,-5.5 0,-3.4Z" fill="url(#gPetal)"/>
<path transform="translate(169.15 868.70) scale(1 0.93) rotate(345)" d="M0,-3.4 C2.1,-5.5 2.6,-9.6 0,-12.9 C-2.6,-9.6 -2.1,-5.5 0,-3.4Z" fill="url(#gPetal)"/>
<path transform="translate(169.15 868.70) scale(1 0.93) rotate(0)" d="M0,-4 L0,-11" stroke="#8f4c16" stroke-width="0.7" fill="none" opacity="0.75"/>
<path transform="translate(169.15 868.70) scale(1 0.93) rotate(30)" d="M0,-4 L0,-11" stroke="#8f4c16" stroke-width="0.7" fill="none" opacity="0.75"/>
<path transform="translate(169.15 868.70) scale(1 0.93) rotate(60)" d="M0,-4 L0,-11" stroke="#8f4c16" stroke-width="0.7" fill="none" opacity="0.75"/>
<path transform="translate(169.15 868.70) scale(1 0.93) rotate(90)" d="M0,-4 L0,-11" stroke="#8f4c16" stroke-width="0.7" fill="none" opacity="0.75"/>
<path transform="translate(169.15 868.70) scale(1 0.93) rotate(120)" d="M0,-4 L0,-11" stroke="#8f4c16" stroke-width="0.7" fill="none" opacity="0.75"/>
<path transform="translate(169.15 868.70) scale(1 0.93) rotate(150)" d="M0,-4 L0,-11" stroke="#8f4c16" stroke-width="0.7" fill="none" opacity="0.75"/>
<path transform="translate(169.15 868.70) scale(1 0.93) rotate(180)" d="M0,-4 L0,-11" stroke="#8f4c16" stroke-width="0.7" fill="none" opacity="0.75"/>
<path transform="translate(169.15 868.70) scale(1 0.93) rotate(210)" d="M0,-4 L0,-11" stroke="#8f4c16" stroke-width="0.7" fill="none" opacity="0.75"/>
<path transform="translate(169.15 868.70) scale(1 0.93) rotate(240)" d="M0,-4 L0,-11" stroke="#8f4c16" stroke-width="0.7" fill="none" opacity="0.75"/>
<path transform="translate(169.15 868.70) scale(1 0.93) rotate(270)" d="M0,-4 L0,-11" stroke="#8f4c16" stroke-width="0.7" fill="none" opacity="0.75"/>
<path transform="translate(169.15 868.70) scale(1 0.93) rotate(300)" d="M0,-4 L0,-11" stroke="#8f4c16" stroke-width="0.7" fill="none" opacity="0.75"/>
<path transform="translate(169.15 868.70) scale(1 0.93) rotate(330)" d="M0,-4 L0,-11" stroke="#8f4c16" stroke-width="0.7" fill="none" opacity="0.75"/>
<path d="M167.15,873.20 L165.55,881.00 L172.75,881.00 L171.15,873.20Z" fill="#e2b055" stroke="#98531a" stroke-width="0.6"/>
<circle cx="169.15" cy="868.80" r="4.6" fill="#c98a34" opacity="0.6"/>
<circle cx="169.15" cy="868.80" r="3.1" fill="#3a2c9c"/>
<circle cx="168.45" cy="868.00" r="1.2" fill="#6a5cc8"/>
<rect x="154.10" y="880.50" width="30.5" height="6.5" fill="url(#gPlate)" stroke="#a85c1b" stroke-width="0.5"/>
<path d="M158.60,883.75 H180.10" stroke="#f1d48a" stroke-width="2.6" stroke-dasharray="2.4 1.1 1.6 0.9 3 1.2 1.3 1 2.2 1" fill="none" opacity="0.85"/>
</g>
<text transform="translate(189.40 886.20) scale(0.6903 1)" font-size="17.80" font-weight="bold" fill="#2a2078" stroke="#2a2078" stroke-width="0.35">PGBV 2.000</text>
<rect x="0" y="0" width="715" height="1" fill="#1a1a1a"/><rect x="714" y="0" width="1" height="1000" fill="#1a1a1a"/><rect x="0" y="999" width="715" height="1" fill="#3a3a3a"/>
</svg></body></html>
